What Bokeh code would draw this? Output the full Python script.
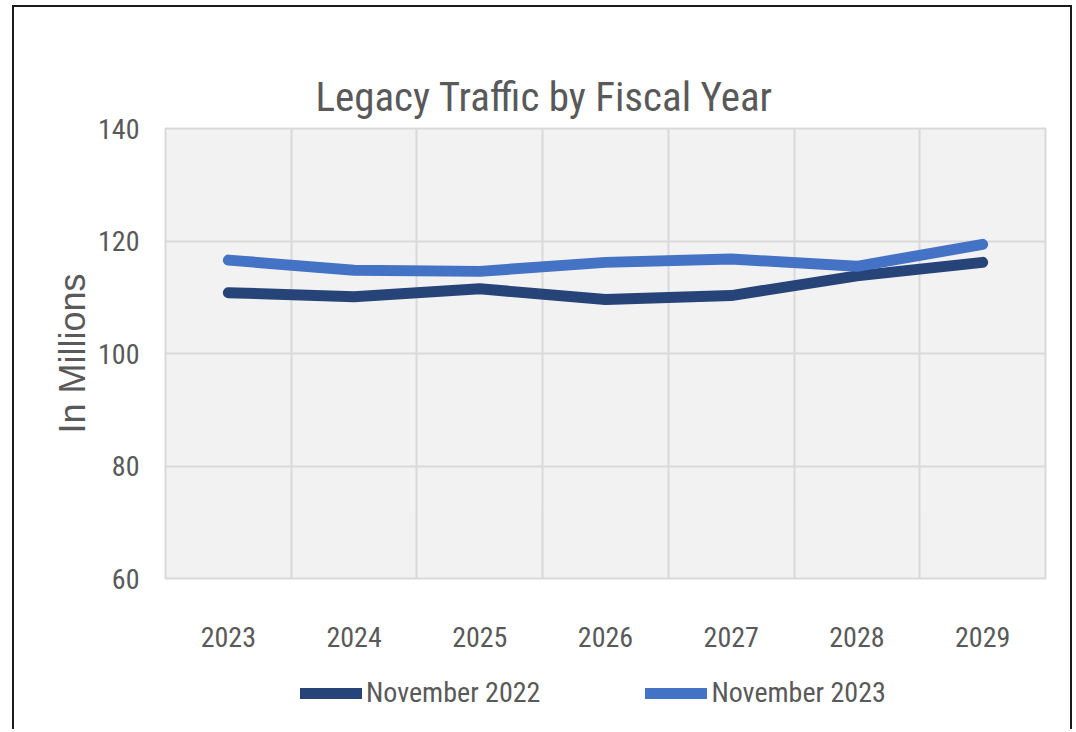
from bokeh.plotting import figure
from bokeh.models import (FactorRange, Range1d, FixedTicker, Legend, LegendItem,
                          ColumnDataSource)
from bokeh.layouts import column
from bokeh.embed import file_html
from bokeh.resources import INLINE

years = ["2023", "2024", "2025", "2026", "2027", "2028", "2029"]
nov_2022 = [110.8, 110.1, 111.5, 109.6, 110.3, 113.8, 116.2]
nov_2023 = [116.6, 114.8, 114.6, 116.2, 116.8, 115.5, 119.4]
y_ticks = [60, 80, 100, 120, 140]
title_text = "Legacy Traffic by Fiscal Year"
y_label = "In Millions"
series_names = ["November 2022", "November 2023"]

NARROW = "'Liberation Sans Narrow', 'Arial Narrow', 'Roboto Condensed', sans-serif"
TEXT = "#595959"
DARK = "#264478"
LIGHT = "#4472C4"
LW = 11

src = ColumnDataSource(dict(year=years, a=nov_2022, b=nov_2023))

p = figure(x_range=FactorRange(factors=years, range_padding=0),
           y_range=Range1d(60, 140),
           width=1056, height=662, output_backend="svg", toolbar_location=None,
           min_border_left=151, min_border_right=25, min_border_top=121,
           min_border_bottom=91)

p.background_fill_color = "#F2F2F2"
p.border_fill_color = "white"
p.outline_line_color = "#D9D9D9"
p.outline_line_width = 2

p.title.text = title_text
p.title.align = "left"
p.title.offset = 150
p.title.text_font = NARROW
p.title.text_font_size = "41px"
p.title.text_font_style = "normal"
p.title.text_color = TEXT
p.title.standoff = 16

# grids
p.ygrid.ticker = FixedTicker(ticks=y_ticks)
p.ygrid.grid_line_color = "#D9D9D9"
p.ygrid.grid_line_width = 2
p.xgrid.ticker = FixedTicker(ticks=list(range(len(years) + 1)))
p.xgrid.grid_line_color = "#D9D9D9"
p.xgrid.grid_line_width = 2

# axes
for ax in (p.xaxis[0], p.yaxis[0]):
    ax.axis_line_color = None
    ax.major_tick_line_color = None
    ax.minor_tick_line_color = None
    ax.major_label_text_font = NARROW
    ax.major_label_text_font_size = "28px"
    ax.major_label_text_color = TEXT

p.yaxis.ticker = FixedTicker(ticks=y_ticks)
p.yaxis.major_label_standoff = 20
p.yaxis.axis_label = y_label
p.yaxis.axis_label_text_font = "Liberation Sans"
p.yaxis.axis_label_text_font_size = "36px"
p.yaxis.axis_label_text_font_style = "normal"
p.yaxis.axis_label_text_color = TEXT
p.yaxis.axis_label_standoff = 2

p.xaxis.major_label_standoff = 42

p.line("year", "a", source=src, line_color=DARK, line_width=LW,
       line_cap="round", line_join="round")
p.line("year", "b", source=src, line_color=LIGHT, line_width=LW,
       line_cap="round", line_join="round")

# legend strip below the chart (its frame aligns with the chart's frame)
lf = figure(width=1056, height=60, x_range=Range1d(0, 1), y_range=Range1d(0, 1),
            output_backend="svg", toolbar_location=None,
            x_axis_location=None, y_axis_location=None,
            min_border_left=0, min_border_right=0, min_border_top=0,
            min_border_bottom=0)
lf.outline_line_color = None
lf.background_fill_color = "white"
lf.border_fill_color = "white"
lf.xgrid.visible = False
lf.ygrid.visible = False
# legend-key renderers: the series drawn far outside this strip's visible range
idx = list(range(len(years)))
k1 = lf.line(x=idx, y=nov_2022, line_color=DARK, line_width=LW, line_cap="round")
k2 = lf.line(x=idx, y=nov_2023, line_color=LIGHT, line_width=LW, line_cap="round")

legend = Legend(items=[LegendItem(label=series_names[0], renderers=[k1]),
                       LegendItem(label=series_names[1], renderers=[k2])],
                orientation="horizontal", location=(135, 20),
                label_text_font=NARROW, label_text_font_size="28px",
                label_text_color=TEXT, glyph_width=62, glyph_height=30,
                label_standoff=4, spacing=105, padding=0, margin=0,
                border_line_color=None, background_fill_alpha=0)
lf.add_layout(legend, "center")

layout = column(p, lf, spacing=0,
                styles={"border-left": "2px solid #1a1a1a",
                        "border-top": "2px solid #1a1a1a",
                        "border-right": "2px solid #1a1a1a",
                        "margin-left": "12px", "margin-top": "5px"})

open("out.html", "w").write(file_html(layout, INLINE))
